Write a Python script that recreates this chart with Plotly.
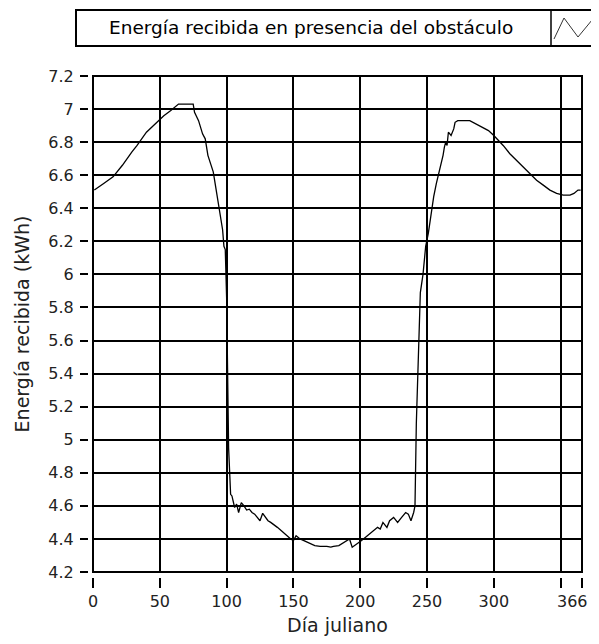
import plotly.graph_objects as go

# Día juliano vs energía recibida (kWh)
dias = [1, 2, 8, 15, 22, 29, 33, 40, 48, 53, 58, 63, 64, 75, 76, 79, 82, 84, 86, 88,
        90, 92, 94, 96, 97, 98, 99, 100, 100.5, 101.5, 103, 104, 106, 107.5, 109, 111,
        113, 115, 117, 119, 121, 123, 125, 127, 129, 131, 133, 135, 138, 141, 145,
        148, 150, 152, 155, 158, 160, 163, 166, 170, 175, 178, 180, 184, 188, 192,
        194, 196, 197, 199, 201, 204, 207, 210, 213, 215, 217, 220, 222, 225, 228,
        231, 234, 236, 238, 240, 241, 242, 243, 245, 247, 249, 251, 253, 255, 257,
        260, 262, 263, 264, 265, 266, 268, 270, 271, 273, 282, 287, 292, 296, 300,
        307, 312, 317, 322, 327, 332, 337, 342, 347, 352, 357, 360, 363, 365]
energia = [6.51, 6.515, 6.55, 6.59, 6.66, 6.74, 6.78, 6.86, 6.92, 6.96, 6.99, 7.02,
           7.03, 7.03, 6.98, 6.93, 6.85, 6.82, 6.72, 6.67, 6.62, 6.52, 6.43, 6.34,
           6.27, 6.17, 6.15, 5.86, 5.6, 4.95, 4.67, 4.66, 4.59, 4.61, 4.56, 4.62,
           4.60, 4.575, 4.58, 4.56, 4.55, 4.53, 4.51, 4.555, 4.53, 4.51, 4.50, 4.49,
           4.47, 4.45, 4.42, 4.40, 4.39, 4.42, 4.40, 4.39, 4.38, 4.37, 4.36, 4.355,
           4.355, 4.35, 4.355, 4.36, 4.38, 4.40, 4.35, 4.36, 4.37, 4.38, 4.39, 4.41,
           4.43, 4.45, 4.47, 4.46, 4.50, 4.47, 4.51, 4.53, 4.50, 4.53, 4.56, 4.55,
           4.51, 4.56, 4.60, 5.1, 5.42, 5.89, 6.0, 6.17, 6.25, 6.37, 6.47, 6.55,
           6.65, 6.72, 6.77, 6.80, 6.78, 6.86, 6.84, 6.88, 6.92, 6.93, 6.93, 6.91,
           6.89, 6.87, 6.84, 6.78, 6.73, 6.69, 6.65, 6.61, 6.57, 6.54, 6.51, 6.49,
           6.48, 6.48, 6.49, 6.51, 6.51]

x_ticks = [0, 50, 100, 150, 200, 250, 300, 350, 366]
# last label is drawn separately, right-aligned, so it is not cut at the page edge
x_labels = ["0", "50", "100", "150", "200", "250", "300", "", ""]
x_last_label = "366"
y_ticks = [4.2, 4.4, 4.6, 4.8, 5.0, 5.2, 5.4, 5.6, 5.8, 6.0, 6.2, 6.4, 6.6, 6.8, 7.0, 7.2]
y_labels = ["4.2", "4.4", "4.6", "4.8", "5", "5.2", "5.4", "5.6", "5.8", "6",
            "6.2", "6.4", "6.6", "6.8", "7", "7.2"]

serie_nombre = "Energía recibida en presencia del obstáculo"

# the page puts the figure 8px in from the top-left corner
OFF = 8
W, H = 591, 628
ML, MR, MT, MB = 80, 17, 68, 59
pw = W - ML - MR
ph = H - MT - MB
gap = 5  # detached tick marks, as in the original


def px(xp):
    # screenshot x pixel -> paper fraction
    return (xp - OFF - ML) / pw


def py(yp):
    # screenshot y pixel -> paper fraction
    return (H - MB - (yp - OFF)) / ph


FONT = "DejaVu Sans"

fig = go.Figure()
fig.add_trace(go.Scatter(x=dias, y=energia, mode="lines", name=serie_nombre,
                         line=dict(color="black", width=1.3), showlegend=False))

fig.update_layout(
    width=W, height=H,
    margin=dict(l=ML, r=MR, t=MT, b=MB, autoexpand=False),
    paper_bgcolor="white", plot_bgcolor="white",
    font=dict(family=FONT, size=16, color="#222"),
    xaxis=dict(
        domain=[gap / pw, 1], range=[0, 366], anchor="free", position=0,
        tickvals=x_ticks, ticktext=x_labels, ticks="outside", ticklen=10,
        tickwidth=2, tickcolor="black", showgrid=True, gridcolor="black",
        gridwidth=1.5, zeroline=False, showline=False, automargin=False,
        title=dict(text="Día juliano", standoff=8),
    ),
    yaxis=dict(
        domain=[gap / ph, 1], range=[4.2, 7.2], anchor="free", position=0,
        tickvals=y_ticks, ticktext=y_labels, ticks="outside", ticklen=8,
        tickwidth=2, tickcolor="black", showgrid=True, gridcolor="black",
        gridwidth=1.5, zeroline=False, showline=False, automargin=False,
        ticklabelstandoff=3,
        title=dict(text="Energía recibida (kWh)", standoff=12),
    ),
)

# plot frame
fig.add_shape(type="rect", xref="x domain", yref="y domain", x0=0, x1=1, y0=0, y1=1,
              line=dict(color="black", width=2))

fig.add_annotation(xref="paper", yref="paper", x=px(590), y=py(601),
                   xanchor="right", yanchor="middle", text=x_last_label,
                   showarrow=False, font=dict(family=FONT, size=16, color="#222"))

# legend box: text on the left, line sample on the right
fig.add_shape(type="rect", xref="paper", yref="paper",
              x0=px(76), x1=px(604), y0=py(46), y1=py(10),
              line=dict(color="black", width=2), fillcolor="white")
fig.add_shape(type="line", xref="paper", yref="paper",
              x0=px(551), x1=px(551), y0=py(46), y1=py(10),
              line=dict(color="black", width=1.5))
fig.add_shape(type="path", xref="paper", yref="paper",
              path=f"M {px(554)},{py(39)} L {px(564)},{py(18)} L {px(578)},{py(37)} L {px(597)},{py(14)}",
              line=dict(color="#333", width=1))
fig.add_annotation(xref="paper", yref="paper", x=px(311), y=py(28),
                   xanchor="center", yanchor="middle",
                   text=serie_nombre, showarrow=False,
                   font=dict(family=FONT, size=18.5, color="black"))

fig.write_html("out.html")
